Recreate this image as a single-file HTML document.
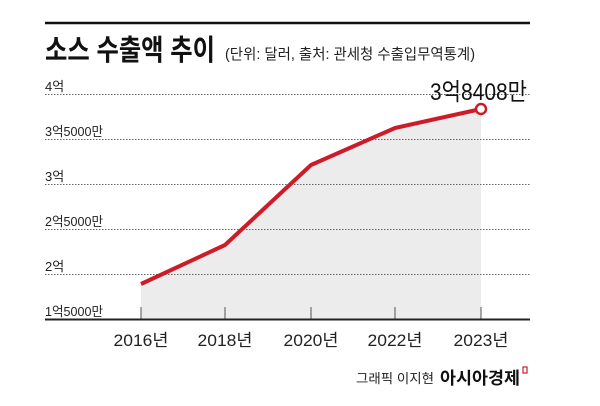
<!DOCTYPE html>
<html><head><meta charset="utf-8"><style>
body{margin:0;background:#fff;}
svg{display:block;font-family:"Liberation Sans","Noto Sans CJK KR",sans-serif;}
</style></head><body>
<svg width="600" height="406" viewBox="0 0 600 406">
<line x1="45" y1="23" x2="530" y2="23" stroke="#111" stroke-width="2.5"/>
<text x="45" y="60" font-size="29" font-weight="bold" fill="#111" textLength="170" lengthAdjust="spacingAndGlyphs">소스 수출액 추이</text>
<text x="225" y="59" font-size="15" fill="#222" textLength="250" lengthAdjust="spacingAndGlyphs">(단위: 달러, 출처: 관세청 수출입무역통계)</text>
<polygon points="141,284 225,245 311,165 395,128 481,109 481,319 141,319" fill="#ececec"/>
<g stroke="#666" stroke-width="1" stroke-dasharray="1.5,1.5">
<line x1="45" y1="94.5" x2="530" y2="94.5"/>
<line x1="45" y1="139.5" x2="530" y2="139.5"/>
<line x1="45" y1="184.5" x2="530" y2="184.5"/>
<line x1="45" y1="229.5" x2="530" y2="229.5"/>
<line x1="45" y1="274.5" x2="530" y2="274.5"/>
</g>
<g font-size="13" fill="#222">
<text x="45" y="91">4억</text>
<text x="45" y="136" textLength="58" lengthAdjust="spacingAndGlyphs">3억5000만</text>
<text x="45" y="181">3억</text>
<text x="45" y="226" textLength="58" lengthAdjust="spacingAndGlyphs">2억5000만</text>
<text x="45" y="271">2억</text>
<text x="45" y="316" textLength="58" lengthAdjust="spacingAndGlyphs">1억5000만</text>
</g>
<g stroke="#555" stroke-width="1">
<line x1="141" y1="307" x2="141" y2="319"/>
<line x1="225" y1="307" x2="225" y2="319"/>
<line x1="311" y1="307" x2="311" y2="319"/>
<line x1="395" y1="307" x2="395" y2="319"/>
<line x1="481" y1="307" x2="481" y2="319"/>
</g>
<line x1="45" y1="319.5" x2="530" y2="319.5" stroke="#222" stroke-width="2"/>
<polyline points="141,284 225,245 311,165 395,128 481,109" fill="none" stroke="#cc1c2a" stroke-width="4" stroke-linejoin="round"/>
<circle cx="481" cy="109" r="5" fill="#fff" stroke="#cc1c2a" stroke-width="2.5"/>
<text x="527" y="100" font-size="24" fill="#111" text-anchor="end" textLength="97" lengthAdjust="spacingAndGlyphs">3억8408만</text>
<g font-size="17" fill="#222" text-anchor="middle">
<text x="141" y="346" textLength="55" lengthAdjust="spacingAndGlyphs">2016년</text>
<text x="225" y="346" textLength="55" lengthAdjust="spacingAndGlyphs">2018년</text>
<text x="311" y="346" textLength="55" lengthAdjust="spacingAndGlyphs">2020년</text>
<text x="395" y="346" textLength="55" lengthAdjust="spacingAndGlyphs">2022년</text>
<text x="481" y="346" textLength="55" lengthAdjust="spacingAndGlyphs">2023년</text>
</g>
<text x="356" y="383" font-size="13" fill="#222" textLength="78" lengthAdjust="spacingAndGlyphs">그래픽 이지현</text>
<text x="440" y="384" font-size="17" font-weight="bold" fill="#111" textLength="80" lengthAdjust="spacingAndGlyphs">아시아경제</text>
<rect x="523" y="367" width="4" height="6" fill="none" stroke="#cc1c2a" stroke-width="1.2"/>
</svg>
</body></html>
